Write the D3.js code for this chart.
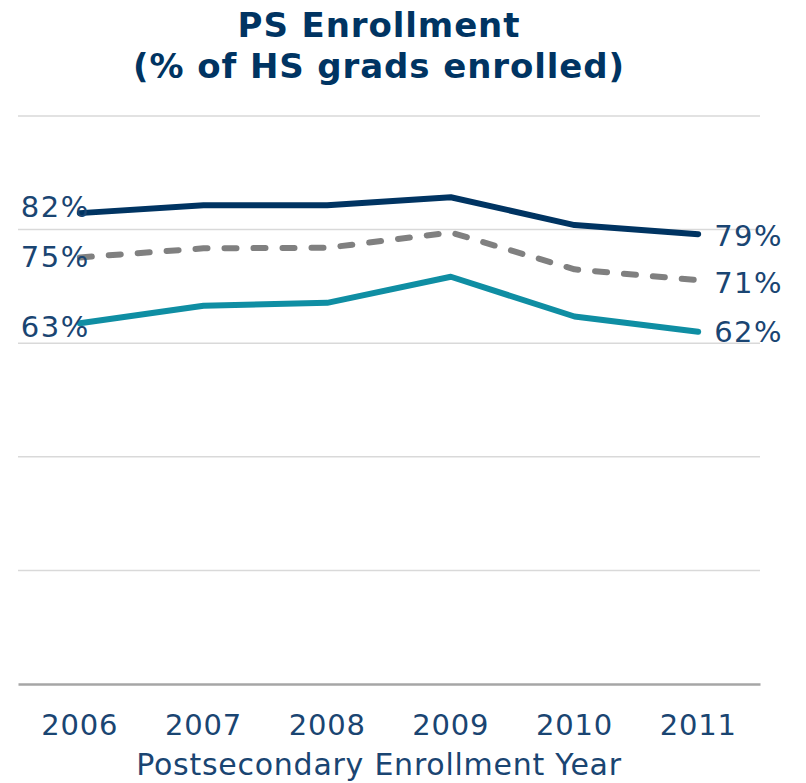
<!DOCTYPE html>
<html><head><meta charset="utf-8">
<script src="https://cdn.jsdelivr.net/npm/d3@7"></script>
<style>body{margin:0;background:#fff}</style>
</head><body>
<svg id="c" width="806" height="783"></svg>
<script>
const years = ["2006","2007","2008","2009","2010","2011"];
const navyValues = [82.9, 84.3, 84.3, 85.7, 80.8, 79.2];
const grayValues = [75.1, 76.7, 76.8, 79.5, 73.0, 71.1];
const tealValues = [63.5, 66.6, 67.1, 71.7, 64.7, 62.0];
const startLabels = ["82%", "75%", "63%"];
const endLabels = ["79%", "71%", "62%"];
const yTicks = [0, 20, 40, 60, 80, 100];

const svg = d3.select("#c");
const x = d3.scaleBand().domain(years).range([18, 760]);
const y = d3.scaleLinear().domain([0, 100]).range([684, 116]);
const txt = "#1a4572";
const startDy = [4, 10, 14];
const endDy = [12, 13, 10];

svg.append("text").attr("x", 379).attr("y", 37).attr("text-anchor", "middle")
  .attr("font-family", "DejaVu Sans").attr("font-weight", "bold").attr("letter-spacing", 0.9)
  .attr("font-size", 34).attr("fill", "#003462").text("PS Enrollment");
svg.append("text").attr("x", 379).attr("y", 78).attr("text-anchor", "middle")
  .attr("font-family", "DejaVu Sans").attr("font-weight", "bold").attr("letter-spacing", 0.9)
  .attr("font-size", 34).attr("fill", "#003462").text("(% of HS grads enrolled)");

svg.append("g").selectAll("line").data(yTicks.filter(d => d > 0)).join("line")
  .attr("x1", 18).attr("x2", 760).attr("y1", d => y(d)).attr("y2", d => y(d))
  .attr("stroke", "#d9d9d9").attr("stroke-width", 1.5);

const xAxis = svg.append("g").attr("transform", "translate(0,684)")
  .call(d3.axisBottom(x).tickSize(0).tickPadding(0));
xAxis.select(".domain").attr("stroke", "#a6a6a6").attr("stroke-width", 2.5);
xAxis.selectAll("text").attr("dy", null).attr("y", 51)
  .attr("font-family", "DejaVu Sans").attr("font-size", 29).attr("letter-spacing", 0.8).attr("fill", txt);

svg.append("text").attr("x", 379).attr("y", 775).attr("text-anchor", "middle")
  .attr("font-family", "DejaVu Sans").attr("font-size", 30).attr("letter-spacing", 0.75).attr("fill", txt)
  .text("Postsecondary Enrollment Year");

const line = d3.line().x((d, i) => x(years[i]) + x.bandwidth() / 2).y(d => y(d));
const series = [
  {v: tealValues, c: "#0f8ea3", dash: null},
  {v: grayValues, c: "#808080", dash: "12,17"},
  {v: navyValues, c: "#003462", dash: null}
];
series.forEach(s => {
  svg.append("path").attr("d", line(s.v)).attr("fill", "none").attr("stroke", s.c)
    .attr("stroke-width", 6).attr("stroke-linecap", "round").attr("stroke-linejoin", "round")
    .attr("stroke-dasharray", s.dash);
});
const labelSeries = [navyValues, grayValues, tealValues];
labelSeries.forEach((v, k) => {
  svg.append("text").attr("x", x(years[0]) + x.bandwidth() / 2 + 10).attr("y", y(v[0]) + startDy[k])
    .attr("text-anchor", "end").attr("letter-spacing", 1.5)
    .attr("font-family", "DejaVu Sans").attr("font-size", 29).attr("fill", txt).text(startLabels[k]);
  svg.append("text").attr("x", x(years[5]) + x.bandwidth() / 2 + 16).attr("y", y(v[5]) + endDy[k])
    .attr("text-anchor", "start").attr("letter-spacing", 1.5)
    .attr("font-family", "DejaVu Sans").attr("font-size", 29).attr("fill", txt).text(endLabels[k]);
});
</script>
</body></html>
